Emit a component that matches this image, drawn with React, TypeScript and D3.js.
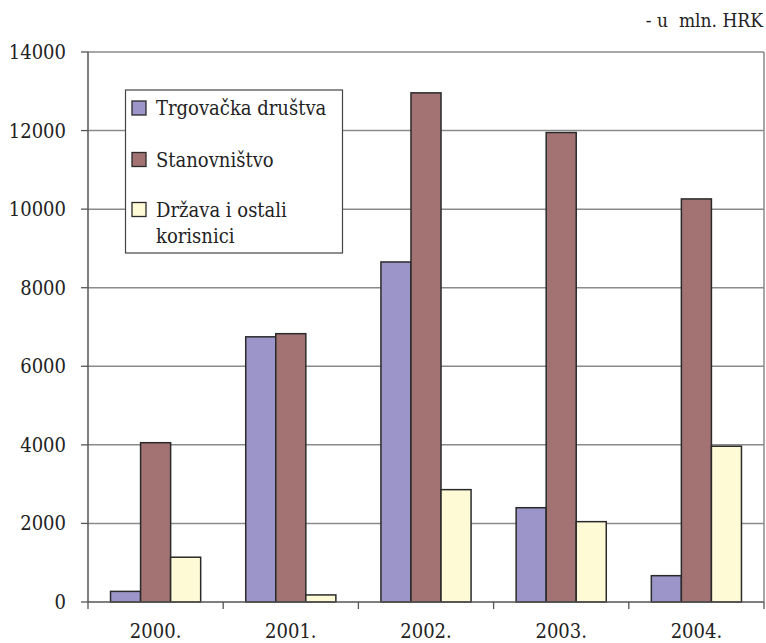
import React from "react";
import * as d3 from "d3";

const categories = ["2000.", "2001.", "2002.", "2003.", "2004."];
const seriesNames = ["Trgovačka društva", "Stanovništvo", "Država i ostali korisnici"];
const trgovacka = [270, 6750, 8655, 2400, 670];
const stanovnistvo = [4055, 6830, 12960, 11950, 10260];
const drzava = [1140, 180, 2860, 2045, 3965];
const yTicks = [0, 2000, 4000, 6000, 8000, 10000, 12000, 14000];
const colors = ["#9b95c9", "#a37374", "#fffad6"];
const unitLabel = "- u  mln. HRK";

export default function App() {
  const W = 766, H = 643;
  const left = 88, right = 764, top = 52, bottom = 602;
  const series = [trgovacka, stanovnistvo, drzava];
  const x = d3.scaleBand().domain(categories).range([left, right]).paddingInner(0).paddingOuter(0);
  const y = d3.scaleLinear().domain([0, 14000]).range([bottom, top]);
  const bw = x.bandwidth() / 4.5;
  const font = "'DejaVu Serif Condensed', 'DejaVu Serif'";
  return (
    <svg width={W} height={H} style={{ position: "absolute", left: 0, top: 0, background: "#fff", fontFamily: font, fontStretch: "condensed" }}>
      <text x={763} y={27} textAnchor="end" fontSize={19} fill="#222" style={{ whiteSpace: "pre" }}>{unitLabel}</text>
      {yTicks.map((t) => (
        <g key={t}>
          {t > 0 && <line x1={left} x2={right} y1={y(t)} y2={y(t)} stroke="#8a8a8a" strokeWidth={1.5} />}
          <line x1={left - 7} x2={left} y1={y(t)} y2={y(t)} stroke="#555" strokeWidth={1.3} />
          <text x={66} y={y(t) + 7} textAnchor="end" fontSize={20} fill="#222">{t}</text>
        </g>
      ))}
      <line x1={right} x2={right} y1={top} y2={bottom} stroke="#8a8a8a" strokeWidth={1.5} />
      {categories.map((c, i) => (
        <g key={c}>
          {series.map((s, j) => {
            const x0 = (x(c) as number) + 0.75 * bw + j * bw;
            return (
              <rect key={j} x={x0} y={y(s[i])} width={bw} height={bottom - y(s[i])}
                fill={colors[j]} stroke="#2a2a2a" strokeWidth={1.5} />
            );
          })}
          <text x={(x(c) as number) + x.bandwidth() / 2} y={638} textAnchor="middle" fontSize={20} fill="#222">{c}</text>
        </g>
      ))}
      {d3.range(categories.length + 1).map((i) => {
        const xx = left + i * x.bandwidth();
        return <line key={i} x1={xx} x2={xx} y1={bottom} y2={bottom + 7} stroke="#555" strokeWidth={1.3} />;
      })}
      <line x1={left} x2={right} y1={bottom} y2={bottom} stroke="#555" strokeWidth={1.5} />
      <line x1={left} x2={left} y1={top} y2={bottom} stroke="#555" strokeWidth={1.5} />
      <g>
        <rect x={125.5} y={90} width={217} height={163} fill="#fff" stroke="#444" strokeWidth={1.2} />
        {seriesNames.map((n, j) => {
          const rowY = [115, 166.5, 216.5][j];
          return (
            <g key={n}>
              <rect x={132} y={rowY - 14} width={14} height={14} fill={colors[j]} stroke="#2a2a2a" strokeWidth={1.3} />
              {j < 2 ? (
                <text x={156} y={rowY} fontSize={20} fill="#222">{n}</text>
              ) : (
                <text x={156} y={rowY} fontSize={20} fill="#222">
                  <tspan x={156}>Država i ostali</tspan>
                  <tspan x={156} dy={26.5}>korisnici</tspan>
                </text>
              )}
            </g>
          );
        })}
      </g>
    </svg>
  );
}
